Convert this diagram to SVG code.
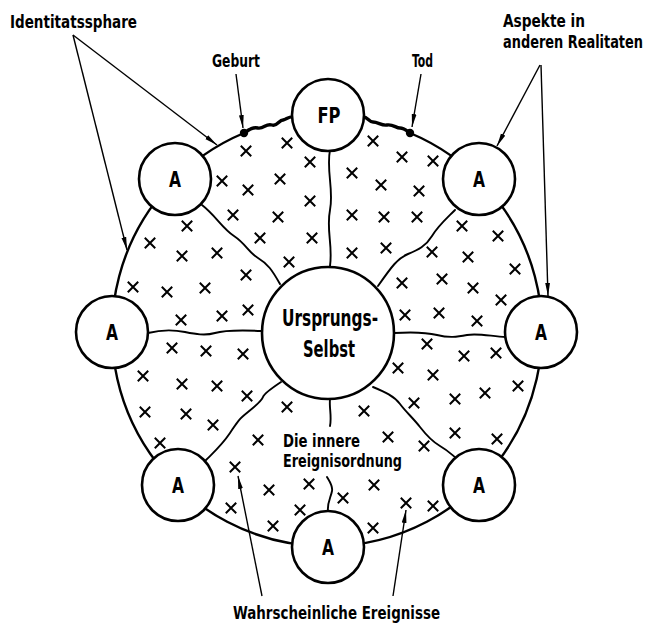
<svg xmlns="http://www.w3.org/2000/svg" width="650" height="624" viewBox="0 0 650 624">
<style>
.bg{fill:#fff}
.ring{fill:none;stroke:#000;stroke-width:2.4}
.node{fill:#fff;stroke:#000;stroke-width:2.6}
.div{fill:none;stroke:#000;stroke-width:1.9;stroke-linecap:round}
.thick{fill:none;stroke:#000;stroke-width:3.4;stroke-linecap:round;stroke-linejoin:round}
.arr{fill:none;stroke:#000;stroke-width:1.4}
.x{stroke:#000;stroke-width:2;stroke-linecap:square}
text{font-family:"DejaVu Sans Condensed","Liberation Sans Narrow","Liberation Sans",sans-serif;font-weight:bold;fill:#000}
.lbl{font-size:17px}
.a{font-size:21px;text-anchor:middle}
</style>
<defs>
<marker id="ah" markerUnits="userSpaceOnUse" markerWidth="14" markerHeight="6" refX="13" refY="3" orient="auto">
<path d="M0,0.6 L13,3 L0,5.4 z" fill="#000"/>
</marker>
<path id="xm" class="x" d="M-4.5,-4.5 L4.5,4.5 M4.5,-4.5 L-4.5,4.5"/>
</defs>
<rect class="bg" width="650" height="624"/>

<g id="sphere">
<path class="ring" d="M410,133 A215,215 0 1 1 244,133"/>
<path class="thick" d="M244,133 C250,129 253,127 258,128 C264,129 266,123 272,125 C277,127 279,120 283,120 C287,119 289,116 294,117 L303,117"/>
<path class="thick" d="M351,117 L363,117 C368,117 369,122 373,122 C378,122 382,126 387,125 C393,124 396,128 400,128 C404,128 407,131 410,133"/>
<circle cx="244" cy="133" r="4.2" fill="#000"/>
<circle cx="410" cy="133" r="4.2" fill="#000"/>
</g>

<g id="connectors">
<path class="div" d="M330,150 C326,170 334,190 330,210 S333,245 330,266"/>
<path class="div" d="M202,205 C216,216 222,228 234,236 S248,252 258,258 S272,270 280,284"/>
<path class="div" d="M455,210 C445,220 438,226 432,236 S418,250 408,254 S392,266 378,286"/>
<path class="div" d="M148,333 C160,330 175,330 185,332 S205,336 215,333 S240,330 262,331"/>
<path class="div" d="M394,333 C410,332 425,332 437,335 S457,337 467,335 S490,336 506,337"/>
<path class="div" d="M206,460 C214,452 222,445 230,433 S238,420 248,412 S262,400 263,397 S272,388 281,382"/>
<path class="div" d="M373,387 C385,392 394,396 400,404 S413,418 420,427 S433,442 440,446 S450,453 456,458"/>
<path class="div" d="M330,399 C329,408 332,416 330,426"/>
<path class="div" d="M327,477 C330,482 333,486 332,491 C331,497 327,503 328,511"/>
<path class="arr" marker-end="url(#ah)" d="M73,35 L217,145"/>
<path class="arr" marker-end="url(#ah)" d="M73,35 L127,250"/>
<path class="arr" marker-end="url(#ah)" d="M236,74 L243,128"/>
<path class="arr" marker-end="url(#ah)" d="M421,74 L412,127"/>
<path class="arr" marker-end="url(#ah)" d="M540,65 L497,146"/>
<path class="arr" marker-end="url(#ah)" d="M541,65 L548,296"/>
<path class="arr" marker-end="url(#ah)" d="M262,596 L238,476"/>
<path class="arr" marker-end="url(#ah)" d="M393,596 L406,510"/>
</g>

<g id="events">
<use href="#xm" x="287" y="143"/><use href="#xm" x="246" y="151"/><use href="#xm" x="310" y="162"/>
<use href="#xm" x="222" y="181"/><use href="#xm" x="248" y="190"/><use href="#xm" x="280" y="179"/>
<use href="#xm" x="310" y="201"/><use href="#xm" x="233" y="215"/><use href="#xm" x="278" y="217"/>
<use href="#xm" x="187" y="226"/><use href="#xm" x="260" y="238"/><use href="#xm" x="312" y="238"/>
<use href="#xm" x="150" y="243"/><use href="#xm" x="217" y="253"/><use href="#xm" x="182" y="256"/>
<use href="#xm" x="289" y="262"/><use href="#xm" x="246" y="275"/><use href="#xm" x="133" y="287"/>
<use href="#xm" x="167" y="292"/><use href="#xm" x="205" y="288"/><use href="#xm" x="248" y="310"/>
<use href="#xm" x="181" y="320"/><use href="#xm" x="222" y="316"/>
<use href="#xm" x="172" y="348"/><use href="#xm" x="206" y="351"/><use href="#xm" x="243" y="354"/>
<use href="#xm" x="143" y="376"/><use href="#xm" x="182" y="384"/><use href="#xm" x="217" y="386"/>
<use href="#xm" x="247" y="396"/><use href="#xm" x="145" y="412"/><use href="#xm" x="186" y="414"/>
<use href="#xm" x="213" y="425"/><use href="#xm" x="160" y="443"/>
<use href="#xm" x="287" y="407"/><use href="#xm" x="364" y="411"/><use href="#xm" x="258" y="440"/>
<use href="#xm" x="235" y="467"/><use href="#xm" x="269" y="490"/><use href="#xm" x="309" y="484"/>
<use href="#xm" x="231" y="508"/><use href="#xm" x="300" y="510"/><use href="#xm" x="273" y="526"/>
<use href="#xm" x="343" y="498"/><use href="#xm" x="374" y="485"/><use href="#xm" x="373" y="528"/>
<use href="#xm" x="406" y="503"/><use href="#xm" x="433" y="506"/>
<use href="#xm" x="414" y="403"/><use href="#xm" x="388" y="437"/><use href="#xm" x="424" y="446"/>
<use href="#xm" x="398" y="368"/><use href="#xm" x="455" y="399"/><use href="#xm" x="455" y="433"/>
<use href="#xm" x="497" y="439"/><use href="#xm" x="485" y="393"/><use href="#xm" x="518" y="386"/>
<use href="#xm" x="433" y="375"/><use href="#xm" x="427" y="344"/><use href="#xm" x="464" y="356"/>
<use href="#xm" x="496" y="353"/><use href="#xm" x="405" y="315"/><use href="#xm" x="439" y="313"/>
<use href="#xm" x="477" y="321"/>
<use href="#xm" x="373" y="141"/><use href="#xm" x="402" y="157"/><use href="#xm" x="433" y="161"/>
<use href="#xm" x="352" y="173"/><use href="#xm" x="381" y="185"/><use href="#xm" x="419" y="191"/>
<use href="#xm" x="352" y="215"/><use href="#xm" x="384" y="217"/><use href="#xm" x="417" y="217"/>
<use href="#xm" x="462" y="226"/><use href="#xm" x="498" y="236"/><use href="#xm" x="352" y="253"/>
<use href="#xm" x="386" y="248"/><use href="#xm" x="432" y="252"/><use href="#xm" x="468" y="257"/>
<use href="#xm" x="515" y="269"/><use href="#xm" x="402" y="283"/><use href="#xm" x="442" y="279"/>
<use href="#xm" x="473" y="288"/><use href="#xm" x="501" y="300"/>
</g>

<g id="fp"><circle class="node" cx="328" cy="115" r="36"/><text class="a" x="329" y="123" textLength="23" lengthAdjust="spacingAndGlyphs">FP</text></g>
<g id="a-ul"><circle class="node" cx="175" cy="179" r="36"/><text class="a" x="175" y="187" textLength="12" lengthAdjust="spacingAndGlyphs">A</text></g>
<g id="a-ur"><circle class="node" cx="479" cy="179" r="36"/><text class="a" x="479" y="187" textLength="12" lengthAdjust="spacingAndGlyphs">A</text></g>
<g id="a-l"><circle class="node" cx="112" cy="332" r="36"/><text class="a" x="112" y="340" textLength="12" lengthAdjust="spacingAndGlyphs">A</text></g>
<g id="a-r"><circle class="node" cx="541" cy="332" r="36"/><text class="a" x="541" y="340" textLength="12" lengthAdjust="spacingAndGlyphs">A</text></g>
<g id="a-bl"><circle class="node" cx="178" cy="485" r="36"/><text class="a" x="178" y="493" textLength="12" lengthAdjust="spacingAndGlyphs">A</text></g>
<g id="a-br"><circle class="node" cx="479" cy="485" r="36"/><text class="a" x="479" y="493" textLength="12" lengthAdjust="spacingAndGlyphs">A</text></g>
<g id="a-b"><circle class="node" cx="328" cy="547" r="36"/><text class="a" x="328" y="555" textLength="12" lengthAdjust="spacingAndGlyphs">A</text></g>
<g id="ursprung"><circle class="node" cx="328" cy="333" r="66"/>
<text x="282" y="326" font-size="23" textLength="96" lengthAdjust="spacingAndGlyphs">Ursprungs-</text>
<text x="303" y="357" font-size="23" textLength="52" lengthAdjust="spacingAndGlyphs">Selbst</text></g>

<g id="labels">
<text class="lbl" x="10" y="28" font-size="19" textLength="127" lengthAdjust="spacingAndGlyphs">Identitatssphare</text>
<text class="lbl" x="212" y="67" textLength="48" lengthAdjust="spacingAndGlyphs">Geburt</text>
<text class="lbl" x="412" y="67" textLength="21" lengthAdjust="spacingAndGlyphs">Tod</text>
<text class="lbl" x="503" y="27" font-size="16" textLength="82" lengthAdjust="spacingAndGlyphs">Aspekte in</text>
<text class="lbl" x="503" y="48" font-size="16" textLength="140" lengthAdjust="spacingAndGlyphs">anderen Realitaten</text>
<text class="lbl" x="283" y="447" textLength="77" lengthAdjust="spacingAndGlyphs">Die innere</text>
<text class="lbl" x="283" y="467" textLength="119" lengthAdjust="spacingAndGlyphs">Ereignisordnung</text>
<text class="lbl" x="233" y="619" textLength="207" lengthAdjust="spacingAndGlyphs">Wahrscheinliche Ereignisse</text>
</g>
</svg>
